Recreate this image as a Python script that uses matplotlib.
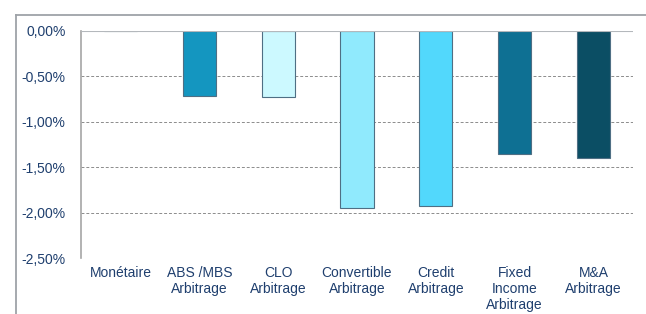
import matplotlib
matplotlib.use("Agg")
import matplotlib.pyplot as plt
from matplotlib.lines import Line2D
from matplotlib.ticker import FuncFormatter

categories = ["Monétaire", "ABS /MBS\nArbitrage", "CLO\nArbitrage", "Convertible\nArbitrage",
              "Credit\nArbitrage", "Fixed\nIncome\nArbitrage", "M&A\nArbitrage"]
values = [0.0, -0.72, -0.73, -1.95, -1.93, -1.36, -1.40]
colors = ["#1496C0", "#1496C0", "#CCF9FF", "#90EAFD", "#52D8FC", "#0E7093", "#0B4E64"]
yticks = [0.0, -0.5, -1.0, -1.5, -2.0, -2.5]

plt.rcParams['font.family'] = ['Liberation Sans', 'DejaVu Sans']
txt = "#1F3F6E"

W, H = 646, 314
fig = plt.figure(figsize=(W/100, H/100), dpi=100)
ax = fig.add_axes([81/W, 1-258/H, (633-81)/W, (258-31)/H])

x = list(range(len(categories)))
ax.bar(x, values, width=0.42, color=colors, edgecolor="#4F6F84", linewidth=0.8, zorder=3)

ax.set_xlim(-0.5, len(categories)-0.5)
ax.set_ylim(-2.5, 0)
ax.set_yticks(yticks)
ax.yaxis.set_major_formatter(FuncFormatter(lambda v, p: f"{v:.2f}%".replace(".", ",").replace("-0,00", "0,00")))
ax.set_xticks(x)
ax.set_xticklabels(categories, color=txt, fontsize=10, linespacing=1.16)
for lab in ax.get_yticklabels():
    lab.set_color(txt)
    lab.set_fontsize(10)
ax.tick_params(axis='both', length=0)
ax.tick_params(axis='y', pad=11)
ax.tick_params(axis='x', pad=6)

for s in ["right", "bottom", "top"]:
    ax.spines[s].set_visible(False)
ax.spines["left"].set_color("#A6A6A6")
ax.spines["left"].set_linewidth(1.2)

for yv in yticks[1:]:
    ax.axhline(yv, color="#8C8C8C", linestyle=(0, (3, 2)), linewidth=0.7, zorder=1)
ax.axhline(0, color="#B4B8BC", linewidth=1.5, zorder=4)

# outer frame (top and left edges visible)
fx, fy = 15.5/W, 1-14.5/H
fig.add_artist(Line2D([fx, 1.0], [fy, fy], transform=fig.transFigure, color="#9EA3A8", linewidth=1.3))
fig.add_artist(Line2D([fx, fx], [0.0, fy], transform=fig.transFigure, color="#9EA3A8", linewidth=1.3))

fig.savefig("out.png", dpi=100)
